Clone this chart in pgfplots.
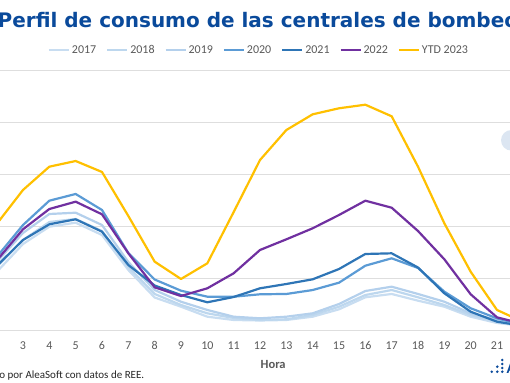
\documentclass[border=0pt]{standalone}
\usepackage{pgfplots}
\pgfplotsset{compat=1.18}
\usepackage{fontspec}
\setmainfont{Carlito}
\newfontfamily\titlefont{DejaVu Sans}
\definecolor{titleblue}{RGB}{10,74,155}
\definecolor{gridgray}{RGB}{222,222,222}
\definecolor{labelgray}{RGB}{89,89,89}
\definecolor{cA}{RGB}{200,221,241}
\definecolor{cB}{RGB}{189,215,238}
\definecolor{cC}{RGB}{180,208,236}
\definecolor{cD}{RGB}{91,155,213}
\definecolor{cE}{RGB}{46,117,182}
\definecolor{cF}{RGB}{112,48,160}
\definecolor{cG}{RGB}{255,192,0}
\definecolor{bubble}{RGB}{220,230,242}
\begin{document}
\begin{tikzpicture}[x=1pt,y=1pt]
\path[use as bounding box] (0,0) rectangle (510,382);
\clip (0,0) rectangle (510,382);
\node[anchor=west, inner sep=0, font=\titlefont\bfseries\fontsize{20}{21}\selectfont, text=titleblue] at (-2.5,362) {Perfil de consumo de las centrales de bombeo};
\fill[bubble] (511.3,241.7) circle (10.3);
\begin{axis}[
  at={(-42.83pt,51pt)}, anchor=south west,
  scale only axis, width=632pt, height=260pt,
  xmin=0.5, xmax=24.5, ymin=0, ymax=5,
  xtick={3,...,21}, ytick={0,...,5}, yticklabels={},
  ymajorgrids, major grid style={draw=gridgray, line width=1pt},
  axis line style={draw=none}, major tick length=0pt,
  tick label style={font=\fontsize{12}{12}\selectfont, text=labelgray},
  /pgf/number format/assume math mode=true,
  xticklabel style={yshift=-7pt},
  xlabel={Hora},
  xlabel style={at={(axis description cs:0.5,0)}, anchor=center, yshift=-33pt, font=\bfseries\fontsize{12.5}{12.5}\selectfont, text=labelgray},
  no markers,
  every axis plot/.append style={line width=2.2pt, line join=round},
  legend columns=7,
  legend style={at={(0.4776,1.0808)}, anchor=center, draw=none, fill=none, font=\fontsize{12}{12}\selectfont, text=labelgray, /tikz/every even column/.append style={column sep=8pt}},
  legend image code/.code={\draw[#1, line width=2pt] (0pt,0pt) -- (20pt,0pt);},
]
\addplot[cA] coordinates {(2,1.135)(3,1.673)(4,2.006)(5,2.083)(6,1.846)(7,1.173)(8,0.644)(9,0.467)(10,0.275)(11,0.212)(12,0.202)(13,0.212)(14,0.275)(15,0.417)(16,0.648)(17,0.712)(18,0.583)(19,0.467)(20,0.275)(21,0.154)(22,0.096)};
\addlegendentry{2017}
\addplot[cB] coordinates {(2,1.231)(3,1.75)(4,2.096)(5,2.154)(6,1.923)(7,1.231)(8,0.712)(9,0.5)(10,0.34)(11,0.25)(12,0.212)(13,0.225)(14,0.308)(15,0.467)(16,0.692)(17,0.788)(18,0.648)(19,0.5)(20,0.308)(21,0.183)(22,0.106)};
\addlegendentry{2018}
\addplot[cC] coordinates {(2,1.327)(3,1.885)(4,2.25)(5,2.275)(6,2.038)(7,1.327)(8,0.788)(9,0.563)(10,0.404)(11,0.275)(12,0.244)(13,0.275)(14,0.34)(15,0.519)(16,0.769)(17,0.852)(18,0.712)(19,0.563)(20,0.34)(21,0.212)(22,0.125)};
\addlegendentry{2019}
\addplot[cD] coordinates {(2,1.423)(3,2.038)(4,2.506)(5,2.635)(6,2.327)(7,1.5)(8,0.99)(9,0.775)(10,0.66)(11,0.66)(12,0.706)(13,0.712)(14,0.788)(15,0.929)(16,1.256)(17,1.398)(18,1.212)(19,0.756)(20,0.437)(21,0.244)(22,0.115)};
\addlegendentry{2020}
\addplot[cE] coordinates {(2,1.25)(3,1.75)(4,2.052)(5,2.148)(6,1.91)(7,1.269)(8,0.875)(9,0.692)(10,0.552)(11,0.654)(12,0.821)(13,0.904)(14,0.994)(15,1.192)(16,1.481)(17,1.494)(18,1.221)(19,0.725)(20,0.371)(21,0.179)(22,0.096)};
\addlegendentry{2021}
\addplot[cF] coordinates {(2,1.354)(3,1.956)(4,2.346)(5,2.487)(6,2.244)(7,1.494)(8,0.84)(9,0.673)(10,0.821)(11,1.11)(12,1.558)(13,1.763)(14,1.975)(15,2.231)(16,2.506)(17,2.371)(18,1.923)(19,1.379)(20,0.706)(21,0.263)(22,0.135)};
\addlegendentry{2022}
\addplot[cG] coordinates {(2,2.058)(3,2.712)(4,3.16)(5,3.269)(6,3.058)(7,2.212)(8,1.333)(9,1.0)(10,1.302)(11,2.288)(12,3.288)(13,3.865)(14,4.167)(15,4.283)(16,4.352)(17,4.129)(18,3.16)(19,2.071)(20,1.14)(21,0.404)(22,0.173)};
\addlegendentry{YTD 2023}
\end{axis}
\node[anchor=base east, inner sep=0, font=\fontsize{11}{11}\selectfont, text=black!85] at (144.5,4) {Elaborado por AleaSoft con datos de REE.};
\foreach \p in {(491.7,10.3),(497.3,15.3),(497.3,10.3),(502.3,22),(502.3,18),(502.3,14),(502.3,10.3)} {\fill[titleblue] \p circle (1.4);}
\node[anchor=base west, inner sep=0, font=\bfseries\fontsize{15}{15}\selectfont, text=titleblue] at (506.5,9) {AleaSoft};
\end{tikzpicture}
\end{document}
